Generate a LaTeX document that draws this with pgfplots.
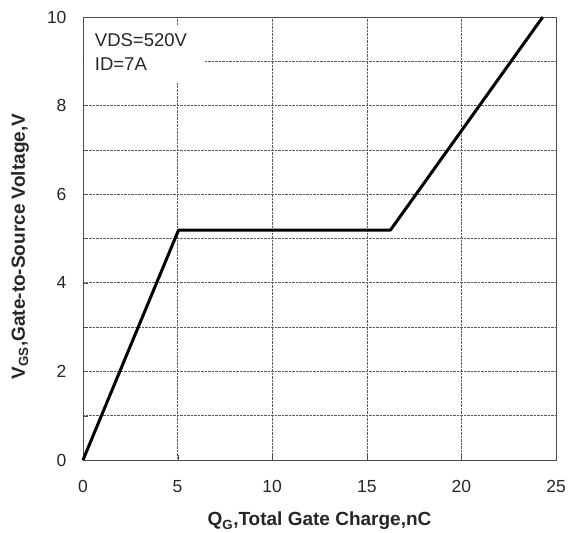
\documentclass[border=0pt]{standalone}
\usepackage{pgfplots}
\pgfplotsset{compat=1.18}
\usepackage{fontspec}
\setmainfont{Liberation Sans}
\begin{document}
\begin{tikzpicture}
\useasboundingbox (0pt,0pt) rectangle (576pt,533pt);
\begin{axis}[
  at={(83pt,73pt)}, anchor=south west,
  scale only axis, width=473pt, height=443pt,
  xmin=0, xmax=25, ymin=0, ymax=10,
  xtick={0,5,...,25}, ytick={0,2,...,10},
  minor ytick={1,3,5,7,9},
  grid=both,
  major grid style={densely dotted, gray!70!black, line width=0.6pt},
  minor grid style={densely dotted, gray!70!black, line width=0.6pt},
  axis line style={gray!60!black, line width=0.8pt},
  tick style={gray!60!black},
  tick align=inside,
  major tick length=5pt, minor tick length=5pt,
  xtick pos=bottom, ytick pos=left,
  /pgf/number format/assume math mode=true,
  ticklabel style={font=\fontsize{17.5}{20}\selectfont, text=black!85},
  xticklabel style={yshift=-17pt},
  yticklabel style={xshift=-13pt},
  xlabel={\textbf{Q\textsubscript{G},Total Gate Charge,nC}},
  ylabel={\textbf{V\textsubscript{GS},Gate-to-Source Voltage,V}},
  label style={font=\fontsize{19}{22}\selectfont, text=black!85},
  xlabel style={at={(axis description cs:0.5,0)}, anchor=center, yshift=-61pt},
  ylabel style={at={(axis description cs:0,0.5)}, anchor=center, yshift=63pt, xshift=-8pt},
  clip=false,
]
\fill[white] (axis cs:0.05,8.5) rectangle (axis cs:6.4,9.8);
\node[anchor=north west, align=left, inner sep=0pt, font=\fontsize{18.5}{24}\selectfont, text=black!85] at (axis cs:0.62,9.62) {VDS=520V\\ID=7A};
\addplot[black, line width=3pt, line join=round] coordinates {
(0,0) (5.05,5.19) (16.25,5.19) (24.3,10)
};
\end{axis}
\end{tikzpicture}
\end{document}
